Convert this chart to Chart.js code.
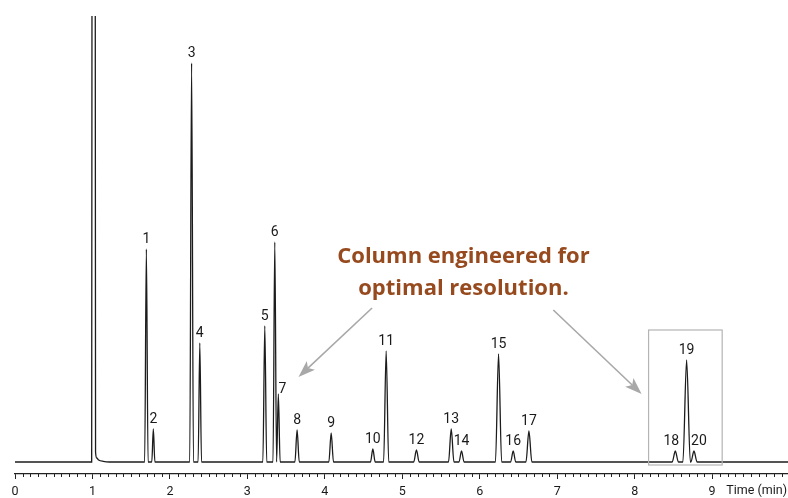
<!DOCTYPE html>
<html>
<head>
<meta charset="utf-8">
<script src="https://cdn.jsdelivr.net/npm/chart.js@4.4.1/dist/chart.umd.min.js"></script>
<style>
html, body { margin: 0; padding: 0; background: #fff; }
</style>
</head>
<body>
<canvas id="chrom" width="788" height="498"></canvas>
<script>
// peak table (time in min, height in detector units above baseline)
var peakNames = ["1", "2", "3", "4", "5", "6", "7", "8", "9", "10",
                 "11", "12", "13", "14", "15", "16", "17", "18", "19", "20"];
var peakTimes = [1.696, 1.786, 2.280, 2.386, 3.225, 3.354, 3.400, 3.642, 4.082, 4.620,
                 4.792, 5.183, 5.632, 5.765, 6.243, 6.432, 6.635, 8.525, 8.671, 8.766];
var peakHeights = [213, 33, 399, 119, 136, 220, 68, 32, 29, 13,
                   111, 12, 33, 11, 108, 11, 31, 11, 102, 11];
var peakHalfWidths = [0.022, 0.020, 0.024, 0.022, 0.025, 0.023, 0.023, 0.028, 0.030, 0.030,
                      0.033, 0.035, 0.035, 0.033, 0.040, 0.033, 0.038, 0.040, 0.048, 0.040];

// solvent front (off scale)
var solventTimes = [0.99, 1.015, 1.04, 1.055, 1.08, 1.14, 1.22];
var solventValues = [0, 3000, 10, 4, 2, 0.6, 0];

var xMin = 0, xMax = 9.98;
var yMin = -12, yMax = 446;

var noteLines = ["Column engineered for", "optimal resolution."];
// note placement in data units
var noteAt = { x: 5.79, y1: 199, y2: 167 };
var arrows = [
    { x1: 4.61, y1: 154, x2: 3.66, y2: 85 },
    { x1: 6.95, y1: 152, x2: 8.09, y2: 68 }
];
var zoomBox = { x1: 8.18, x2: 9.13, y1: 132, y2: -3 };

var labelShift = { "7": [4, 1], "18": [-4, 6], "20": [5, 6] };

function peakValue(t) {
    var v = 0;
    for (var i = 0; i < peakTimes.length; i++) {
        var d = Math.abs(t - peakTimes[i]);
        if (d < peakHalfWidths[i]) v += peakHeights[i] * (1 - d / peakHalfWidths[i]);
    }
    return v;
}

function buildTrace() {
    var pts = [];
    var seen = {};
    var xs = [xMin, xMax];
    peakTimes.forEach(function (t, i) {
        xs.push(t - peakHalfWidths[i], t, t + peakHalfWidths[i]);
    });
    xs.forEach(function (x) {
        var k = x.toFixed(4);
        if (seen[k]) return;
        seen[k] = true;
        pts.push({ x: x, y: peakValue(x) });
    });
    solventTimes.forEach(function (t, i) {
        pts.push({ x: t, y: solventValues[i] });
    });
    pts.sort(function (a, b) { return a.x - b.x; });
    return pts;
}

function drawArrow(ctx, x1, y1, x2, y2) {
    var ang = Math.atan2(y2 - y1, x2 - x1);
    var len = 17, half = 6;
    var bx = x2 - Math.cos(ang) * len, by = y2 - Math.sin(ang) * len;
    ctx.beginPath();
    ctx.moveTo(x1, y1);
    ctx.lineTo(bx + Math.cos(ang) * 4, by + Math.sin(ang) * 4);
    ctx.stroke();
    ctx.beginPath();
    ctx.moveTo(x2, y2);
    ctx.lineTo(bx + Math.sin(ang) * half, by - Math.cos(ang) * half);
    ctx.lineTo(bx + Math.cos(ang) * 4, by + Math.sin(ang) * 4);
    ctx.lineTo(bx - Math.sin(ang) * half, by + Math.cos(ang) * half);
    ctx.closePath();
    ctx.fill();
}

var marksPlugin = {
    id: 'peakMarks',
    afterDatasetsDraw: function (chart) {
        var ctx = chart.ctx, xs = chart.scales.x, ys = chart.scales.y;
        var bottom = chart.chartArea.bottom;
        ctx.save();

        // minor ticks every 0.1 min
        ctx.strokeStyle = '#222';
        ctx.lineWidth = 1;
        for (var i = 1; i < 100; i++) {
            if (i % 10 === 0) continue;
            var px = Math.round(xs.getPixelForValue(i / 10)) + 0.5;
            ctx.beginPath();
            ctx.moveTo(px, bottom);
            ctx.lineTo(px, bottom + 3);
            ctx.stroke();
        }

        // zoom box
        ctx.strokeStyle = '#b4b4b4';
        ctx.lineWidth = 1.2;
        var bx1 = xs.getPixelForValue(zoomBox.x1), bx2 = xs.getPixelForValue(zoomBox.x2);
        var by1 = ys.getPixelForValue(zoomBox.y1), by2 = ys.getPixelForValue(zoomBox.y2);
        ctx.strokeRect(bx1, by1, bx2 - bx1, by2 - by1);

        // arrows
        ctx.strokeStyle = '#a8a8a8';
        ctx.fillStyle = '#a8a8a8';
        ctx.lineWidth = 1.6;
        arrows.forEach(function (a) {
            drawArrow(ctx, xs.getPixelForValue(a.x1), ys.getPixelForValue(a.y1),
                      xs.getPixelForValue(a.x2), ys.getPixelForValue(a.y2));
        });

        // peak numbers
        ctx.fillStyle = '#1a1a1a';
        ctx.font = '14px Roboto, "Open Sans", sans-serif';
        ctx.textAlign = 'center';
        ctx.textBaseline = 'alphabetic';
        peakNames.forEach(function (name, i) {
            var off = labelShift[name] || [0, 6];
            ctx.fillText(name, xs.getPixelForValue(peakTimes[i]) + off[0],
                         ys.getPixelForValue(peakHeights[i]) - off[1]);
        });

        // note
        ctx.fillStyle = '#964a1e';
        ctx.font = 'bold 22px "Open Sans", sans-serif';
        var nx = xs.getPixelForValue(noteAt.x);
        ctx.fillText(noteLines[0], nx, ys.getPixelForValue(noteAt.y1));
        ctx.fillText(noteLines[1], nx, ys.getPixelForValue(noteAt.y2));

        // axis title
        ctx.fillStyle = '#1a1a1a';
        ctx.font = '12.5px Roboto, "Open Sans", sans-serif';
        ctx.textAlign = 'right';
        ctx.textBaseline = 'middle';
        ctx.fillText('Time (min)', 787, 491);
        ctx.restore();
    }
};

new Chart(document.getElementById('chrom'), {
    type: 'line',
    data: {
        datasets: [{
            data: buildTrace(),
            borderColor: '#1c1c1c',
            borderWidth: 1.3,
            pointRadius: 0,
            fill: false,
            cubicInterpolationMode: 'monotone'
        }]
    },
    options: {
        responsive: false,
        animation: false,
        devicePixelRatio: 1,
        layout: { padding: { left: 15, right: 0, top: 16, bottom: 0 } },
        plugins: { legend: { display: false }, tooltip: { enabled: false } },
        scales: {
            x: {
                type: 'linear',
                min: xMin,
                max: xMax,
                afterFit: function (scale) { scale.height = 24; },
                ticks: {
                    stepSize: 1,
                    includeBounds: false,
                    autoSkip: false,
                    maxRotation: 0,
                    padding: 5,
                    color: '#1a1a1a',
                    font: { family: 'Roboto, "Open Sans", sans-serif', size: 12.5 },
                    callback: function (v) { return Number.isInteger(v) ? String(v) : ''; }
                },
                grid: { display: true, drawOnChartArea: false, tickLength: 5, color: '#222' },
                border: { display: true, color: '#222', width: 1.2 }
            },
            y: { display: false, min: yMin, max: yMax }
        }
    },
    plugins: [marksPlugin]
});
</script>
</body>
</html>
